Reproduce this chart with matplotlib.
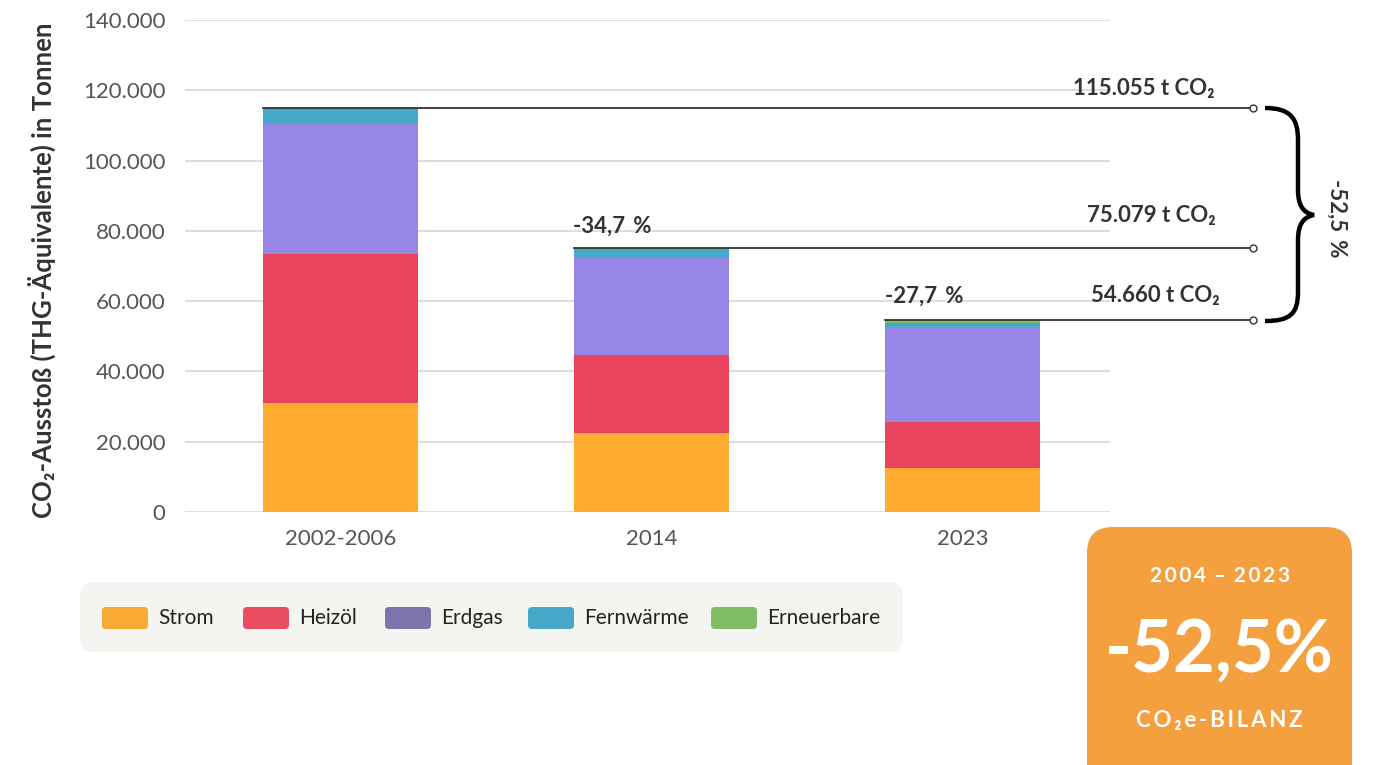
import matplotlib.pyplot as plt
from matplotlib.patches import FancyBboxPatch, PathPatch
from matplotlib.path import Path

plt.rcParams['font.family'] = ['Lato', 'DejaVu Sans']

# Daten
zeitraeume = ['2002-2006', '2014', '2023']
strom = [31000, 22500, 12650]
heizoel = [42400, 22200, 12950]
erdgas = [37000, 27800, 26950]
fernwaerme = [4550, 2300, 1150]
erneuerbare = [105, 279, 960]
gesamt_labels = ['115.055 t CO\u2082', '75.079 t CO\u2082', '54.660 t CO\u2082']
aenderung_labels = ['', '-34,7 %', '-27,7 %']
yticks = [0, 20000, 40000, 60000, 80000, 100000, 120000, 140000]
ytick_labels = ['0', '20.000', '40.000', '60.000', '80.000', '100.000', '120.000', '140.000']

serien = [
    ('Strom', strom, '#FFAB30', '#F9AA33'),
    ('Heizöl', heizoel, '#EA435D', '#EA4C61'),
    ('Erdgas', erdgas, '#9886E6', '#7E73AA'),
    ('Fernwärme', fernwaerme, '#43AAC8', '#45A8C8'),
    ('Erneuerbare', erneuerbare, '#7DBD62', '#80BD66'),
]

W, H = 1380, 765
fig = plt.figure(figsize=(W / 100, H / 100), dpi=100)
ax = fig.add_axes([185 / W, 1 - 512 / H, 925 / W, 492 / H])

x = list(range(len(zeitraeume)))
unten = [0] * len(x)
for name, werte, farbe, _ in serien:
    ax.bar(x, werte, width=0.5, bottom=unten, color=farbe, edgecolor='none', zorder=2)
    unten = [u + v for u, v in zip(unten, werte)]

ax.set_xlim(-0.5, 2.475)
ax.set_ylim(0, 140000)
ax.set_yticks(yticks)
ax.set_yticklabels(ytick_labels)
ax.set_xticks(x)
ax.set_xticklabels(zeitraeume)
ax.tick_params(axis='y', length=0, pad=14, labelsize=16, labelcolor='#555555')
ax.tick_params(axis='x', length=0, pad=12, labelsize=16, labelcolor='#555555')
ax.grid(axis='y', color='#dddddd', linewidth=1.4, zorder=0)
for s in ax.spines.values():
    s.set_visible(False)

# Linien für die Gesamtwerte
x_ende = -0.5 + (1253 - 185) / 925 * 2.975
for i, total in enumerate(unten):
    ax.plot([i - 0.25, x_ende], [total, total], color='#333333', linewidth=1.3,
            clip_on=False, zorder=3)
    ax.plot([x_ende], [total], marker='o', markersize=5, markerfacecolor='white',
            markeredgecolor='#333333', markeredgewidth=1, clip_on=False, zorder=4)

# Overlay in Pixelkoordinaten für Dekoration
ov = fig.add_axes([0, 0, 1, 1], facecolor='none')
ov.set_xlim(0, W)
ov.set_ylim(H, 0)
ov.axis('off')

ov.text(42, 270, 'CO\u2082-Ausstoß (THG-Äquivalente) in Tonnen', rotation=90,
        ha='center', va='center', fontsize=18.5, fontweight='bold', color='#333333')

label_pos = [(1144, 88), (1151, 215), (1155, 295)]
for (lx, ly), txt in zip(label_pos, gesamt_labels):
    ov.text(lx, ly, txt, ha='center', va='center', fontsize=16, fontweight='bold', color='#333333')

pct_pos = [None, (573, 226), (885, 296)]
for pos, txt in zip(pct_pos, aenderung_labels):
    if pos:
        ov.text(pos[0], pos[1], txt.replace(' ', '\u2009 '), ha='left', va='center',
                fontsize=16, fontweight='bold', color='#333333')

# geschweifte Klammer
verts = [
    (1265, 108),
    (1290, 108), (1298, 118), (1298, 140),
    (1298, 190),
    (1298, 205), (1303, 213), (1314, 215),
    (1303, 217), (1298, 225), (1298, 240),
    (1298, 292),
    (1298, 314), (1290, 321), (1265, 321),
]
codes = [Path.MOVETO, Path.CURVE4, Path.CURVE4, Path.CURVE4, Path.LINETO,
         Path.CURVE4, Path.CURVE4, Path.CURVE4, Path.CURVE4, Path.CURVE4, Path.CURVE4,
         Path.LINETO, Path.CURVE4, Path.CURVE4, Path.CURVE4]
ov.add_patch(PathPatch(Path(verts, codes), facecolor='none', edgecolor='black',
                       linewidth=3.2, capstyle='butt'))
ov.text(1337, 218, '-52,5\u2009 %', rotation=270, ha='center', va='center',
        fontsize=16, fontweight='bold', color='#333333')

# Legende
ov.add_patch(FancyBboxPatch((80, 582), 823, 70, boxstyle='round,pad=0,rounding_size=14',
                            facecolor='#F4F4F0', edgecolor='none'))
leg_x = [102, 243, 385, 528, 711]
for lx, (name, _, _, lfarbe) in zip(leg_x, serien):
    ov.add_patch(FancyBboxPatch((lx, 607), 46, 22, boxstyle='round,pad=0,rounding_size=4',
                                facecolor=lfarbe, edgecolor='none'))
    ov.text(lx + 56, 618, name, ha='left', va='center', fontsize=15, color='#222222')

# Kennzahl-Box
ov.add_patch(FancyBboxPatch((1087, 527), 265, 270, boxstyle='round,pad=0,rounding_size=26',
                            facecolor='#F4A03F', edgecolor='none', clip_on=False))
ov.text(1220, 576, '2\u20090\u20090\u20094\u2009 \u2013 \u20092\u20090\u20092\u20093',
        ha='center', va='center', fontsize=15, fontweight='bold', color='white')
ov.text(1219, 651, '-52,5%', ha='center', va='center', fontsize=52,
        fontweight='bold', color='white')
ov.text(1219, 720, 'C\u2009O\u2009\u2082\u2009e\u2009-\u2009B\u2009I\u2009L\u2009A\u2009N\u2009Z',
        ha='center', va='center', fontsize=16, fontweight='bold', color='white')

fig.savefig('out.png', dpi=100)
